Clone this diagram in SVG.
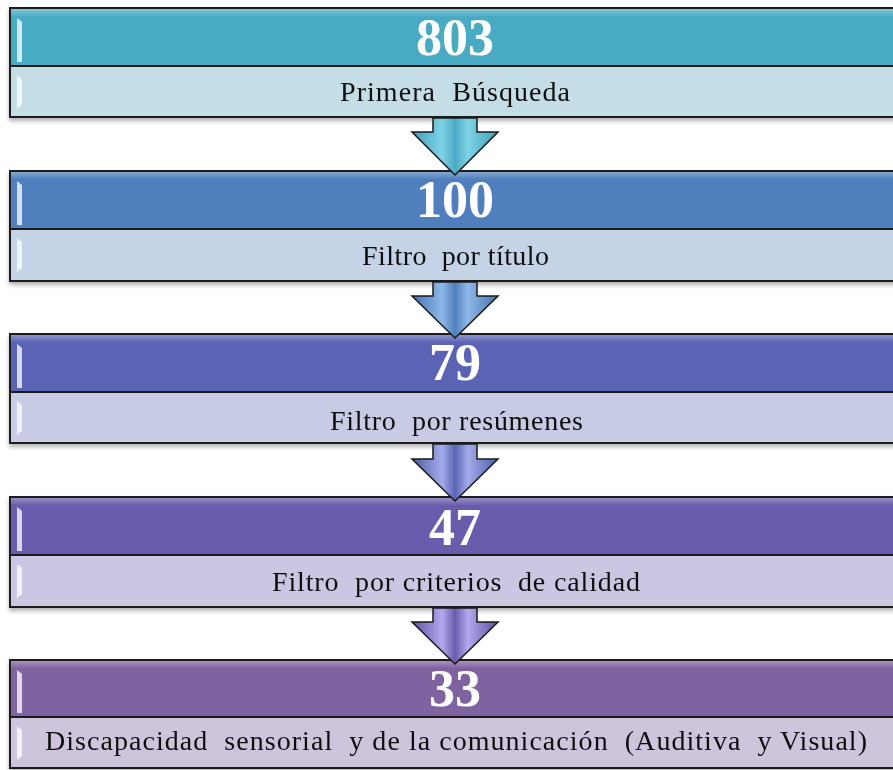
<svg xmlns="http://www.w3.org/2000/svg" width="893" height="770" viewBox="0 0 893 770">
<defs>
<style>
.num{font-family:"Liberation Serif","Times New Roman",serif;font-weight:bold;font-size:52px;fill:#ffffff;text-anchor:middle}
.lbl{font-family:"Liberation Serif","Times New Roman",serif;font-size:28px;fill:#111111;white-space:pre}
.frame{fill:none;stroke:#1e1e1e;stroke-width:2}
.div{stroke:#1e1e1e;stroke-width:2}
.hl{fill:#ffffff;opacity:0.75}
.arrow{stroke:#1a1a1a;stroke-width:1.5;stroke-linejoin:miter}
</style>
<filter id="sh" x="-5%" y="-20%" width="110%" height="140%">
<feDropShadow dx="0" dy="3" stdDeviation="2" flood-color="#000" flood-opacity="0.3"/>
</filter>
<linearGradient id="gloss" x1="0" y1="0" x2="0" y2="1">
<stop offset="0" stop-color="#fff" stop-opacity="0.35"/>
<stop offset="0.15" stop-color="#fff" stop-opacity="0"/>
<stop offset="1" stop-color="#fff" stop-opacity="0"/>
</linearGradient>
<linearGradient id="a1" x1="0" y1="0" x2="1" y2="0">
<stop offset="0" stop-color="#3d9fb8"/><stop offset="0.35" stop-color="#7fd3e6"/><stop offset="0.5" stop-color="#4aaac4"/><stop offset="0.65" stop-color="#7fd3e6"/><stop offset="1" stop-color="#3d9fb8"/>
</linearGradient>
<linearGradient id="a2" x1="0" y1="0" x2="1" y2="0">
<stop offset="0" stop-color="#3f74b0"/><stop offset="0.35" stop-color="#8fb8e8"/><stop offset="0.5" stop-color="#4f80bd"/><stop offset="0.65" stop-color="#8fb8e8"/><stop offset="1" stop-color="#3f74b0"/>
</linearGradient>
<linearGradient id="a3" x1="0" y1="0" x2="1" y2="0">
<stop offset="0" stop-color="#4e5aa8"/><stop offset="0.35" stop-color="#a3acea"/><stop offset="0.5" stop-color="#5a64b4"/><stop offset="0.65" stop-color="#a3acea"/><stop offset="1" stop-color="#4e5aa8"/>
</linearGradient>
<linearGradient id="a4" x1="0" y1="0" x2="1" y2="0">
<stop offset="0" stop-color="#5e50a0"/><stop offset="0.35" stop-color="#b4a8ee"/><stop offset="0.5" stop-color="#6a5cac"/><stop offset="0.65" stop-color="#b4a8ee"/><stop offset="1" stop-color="#5e50a0"/>
</linearGradient>
</defs>
<rect width="893" height="770" fill="#ffffff"/>

<g id="node1" filter="url(#sh)">
<rect x="10" y="8" width="887" height="58" fill="#4aaac4"/>
<rect x="10" y="66" width="887" height="51" fill="#c5dde4"/>
<rect x="10" y="8" width="887" height="58" fill="url(#gloss)"/>
<path d="M17,18 L22,22 L22,62 L17,62 Z" class="hl"/>
<path d="M17,75 L22,79 L22,105 L17,109 Z" class="hl"/>
<rect x="10" y="8" width="887" height="109" class="frame"/>
<line x1="10" y1="66" x2="897" y2="66" class="div"/>
<text x="455" y="55" class="num">803</text>
<text x="340" y="101" class="lbl" xml:space="preserve" textLength="230" lengthAdjust="spacing">Primera  Búsqueda</text>
</g>

<g id="node2" filter="url(#sh)">
<rect x="10" y="171" width="887" height="58" fill="#4f80bd"/>
<rect x="10" y="229" width="887" height="52" fill="#c5d3e6"/>
<rect x="10" y="171" width="887" height="58" fill="url(#gloss)"/>
<path d="M17,181 L22,185 L22,225 L17,225 Z" class="hl"/>
<path d="M17,238 L22,242 L22,268 L17,272 Z" class="hl"/>
<rect x="10" y="171" width="887" height="110" class="frame"/>
<line x1="10" y1="229" x2="897" y2="229" class="div"/>
<text x="455" y="217" class="num">100</text>
<text x="362" y="265" class="lbl" xml:space="preserve" textLength="187" lengthAdjust="spacing">Filtro  por título</text>
</g>

<g id="node3" filter="url(#sh)">
<rect x="10" y="334" width="887" height="58" fill="#5a64b4"/>
<rect x="10" y="392" width="887" height="51" fill="#c7cbe4"/>
<rect x="10" y="334" width="887" height="58" fill="url(#gloss)"/>
<path d="M17,344 L22,348 L22,388 L17,388 Z" class="hl"/>
<path d="M17,401 L22,405 L22,431 L17,435 Z" class="hl"/>
<rect x="10" y="334" width="887" height="109" class="frame"/>
<line x1="10" y1="392" x2="897" y2="392" class="div"/>
<text x="455" y="380" class="num">79</text>
<text x="330" y="430" class="lbl" xml:space="preserve" textLength="253" lengthAdjust="spacing">Filtro  por resúmenes</text>
</g>

<g id="node4" filter="url(#sh)">
<rect x="10" y="497" width="887" height="58" fill="#6a5cac"/>
<rect x="10" y="555" width="887" height="52" fill="#cbc6e2"/>
<rect x="10" y="497" width="887" height="58" fill="url(#gloss)"/>
<path d="M17,507 L22,511 L22,551 L17,551 Z" class="hl"/>
<path d="M17,564 L22,568 L22,594 L17,598 Z" class="hl"/>
<rect x="10" y="497" width="887" height="110" class="frame"/>
<line x1="10" y1="555" x2="897" y2="555" class="div"/>
<text x="455" y="545" class="num">47</text>
<text x="272" y="591" class="lbl" xml:space="preserve" textLength="368" lengthAdjust="spacing">Filtro  por criterios  de calidad</text>
</g>

<g id="node5" filter="url(#sh)">
<rect x="10" y="660" width="887" height="57" fill="#7f62a0"/>
<rect x="10" y="717" width="887" height="51" fill="#cec5dc"/>
<rect x="10" y="660" width="887" height="57" fill="url(#gloss)"/>
<path d="M17,670 L22,674 L22,713 L17,713 Z" class="hl"/>
<path d="M17,726 L22,730 L22,756 L17,760 Z" class="hl"/>
<rect x="10" y="660" width="887" height="108" class="frame"/>
<line x1="10" y1="717" x2="897" y2="717" class="div"/>
<text x="455" y="706" class="num">33</text>
<text x="45" y="750" class="lbl" xml:space="preserve" textLength="822" lengthAdjust="spacing">Discapacidad  sensorial  y de la comunicación  (Auditiva  y Visual)</text>
</g>

<g id="connectors">
<path class="arrow" fill="url(#a1)" d="M433,118 L477,118 L477,132 L498,132 L455,175 L412,132 L433,132 Z"/>
<path class="arrow" fill="url(#a2)" d="M433,282 L477,282 L477,296 L498,296 L455,338 L412,296 L433,296 Z"/>
<path class="arrow" fill="url(#a3)" d="M433,444 L477,444 L477,459 L498,459 L455,501 L412,459 L433,459 Z"/>
<path class="arrow" fill="url(#a4)" d="M433,608 L477,608 L477,622 L498,622 L455,664 L412,622 L433,622 Z"/>
</g>
</svg>
